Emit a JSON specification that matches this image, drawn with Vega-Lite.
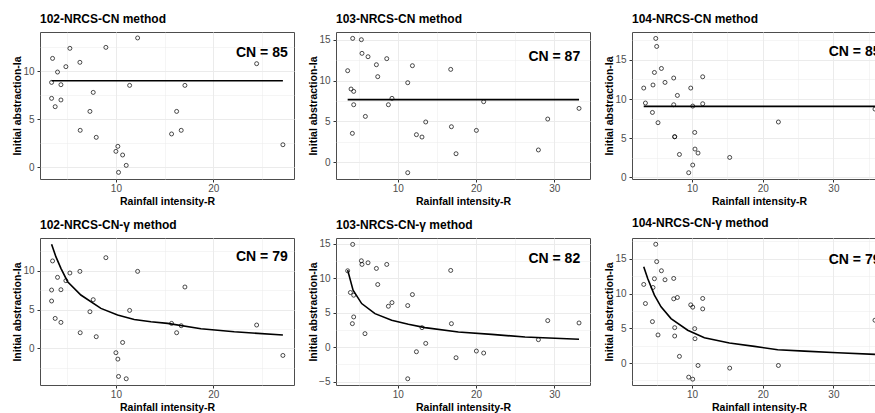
{
  "$schema": "https://vega.github.io/schema/vega-lite/v6.json",
  "background": "white",
  "padding": {"left": 11, "top": 12, "right": 0, "bottom": 0},
  "columns": 3,
  "spacing": {"row": 9, "column": 12},
  "datasets": {
    "points": [
      {"station": "102", "method": "CN", "R": 3.49, "Ia": 11.35}, {"station": "102", "method": "CN", "R": 3.39, "Ia": 8.85}, {"station": "102", "method": "CN", "R": 3.39, "Ia": 7.19}, {"station": "102", "method": "CN", "R": 3.76, "Ia": 6.32}, {"station": "102", "method": "CN", "R": 4.0, "Ia": 9.93}, {"station": "102", "method": "CN", "R": 4.35, "Ia": 8.61}, {"station": "102", "method": "CN", "R": 4.35, "Ia": 7.02}, {"station": "102", "method": "CN", "R": 4.86, "Ia": 10.49}, {"station": "102", "method": "CN", "R": 5.27, "Ia": 12.4}, {"station": "102", "method": "CN", "R": 6.3, "Ia": 10.94}, {"station": "102", "method": "CN", "R": 6.33, "Ia": 3.86}, {"station": "102", "method": "CN", "R": 7.33, "Ia": 5.83}, {"station": "102", "method": "CN", "R": 7.67, "Ia": 7.81}, {"station": "102", "method": "CN", "R": 7.98, "Ia": 3.13}, {"station": "102", "method": "CN", "R": 8.97, "Ia": 12.5}, {"station": "102", "method": "CN", "R": 10.0, "Ia": 1.67}, {"station": "102", "method": "CN", "R": 10.2, "Ia": 2.19}, {"station": "102", "method": "CN", "R": 10.27, "Ia": -0.52}, {"station": "102", "method": "CN", "R": 10.69, "Ia": 1.29}, {"station": "102", "method": "CN", "R": 11.06, "Ia": 0.21}, {"station": "102", "method": "CN", "R": 11.41, "Ia": 8.54}, {"station": "102", "method": "CN", "R": 12.23, "Ia": 13.48}, {"station": "102", "method": "CN", "R": 15.72, "Ia": 3.48}, {"station": "102", "method": "CN", "R": 16.24, "Ia": 5.83}, {"station": "102", "method": "CN", "R": 16.71, "Ia": 3.86}, {"station": "102", "method": "CN", "R": 17.09, "Ia": 8.54}, {"station": "102", "method": "CN", "R": 24.46, "Ia": 10.8}, {"station": "102", "method": "CN", "R": 27.16, "Ia": 2.36},
      {"station": "102", "method": "G", "R": 3.49, "Ia": 11.25}, {"station": "102", "method": "G", "R": 3.39, "Ia": 7.51}, {"station": "102", "method": "G", "R": 3.39, "Ia": 6.1}, {"station": "102", "method": "G", "R": 3.76, "Ia": 3.86}, {"station": "102", "method": "G", "R": 4.0, "Ia": 9.14}, {"station": "102", "method": "G", "R": 4.35, "Ia": 7.55}, {"station": "102", "method": "G", "R": 4.35, "Ia": 3.35}, {"station": "102", "method": "G", "R": 4.86, "Ia": 8.71}, {"station": "102", "method": "G", "R": 5.27, "Ia": 9.7}, {"station": "102", "method": "G", "R": 6.3, "Ia": 9.91}, {"station": "102", "method": "G", "R": 6.33, "Ia": 2.02}, {"station": "102", "method": "G", "R": 7.33, "Ia": 4.72}, {"station": "102", "method": "G", "R": 7.67, "Ia": 6.27}, {"station": "102", "method": "G", "R": 7.98, "Ia": 1.51}, {"station": "102", "method": "G", "R": 8.97, "Ia": 11.67}, {"station": "102", "method": "G", "R": 10.0, "Ia": -0.55}, {"station": "102", "method": "G", "R": 10.2, "Ia": -1.37}, {"station": "102", "method": "G", "R": 10.27, "Ia": -3.6}, {"station": "102", "method": "G", "R": 10.69, "Ia": 0.77}, {"station": "102", "method": "G", "R": 11.06, "Ia": -3.9}, {"station": "102", "method": "G", "R": 11.41, "Ia": 4.89}, {"station": "102", "method": "G", "R": 12.23, "Ia": 9.91}, {"station": "102", "method": "G", "R": 15.72, "Ia": 3.22}, {"station": "102", "method": "G", "R": 16.24, "Ia": 2.02}, {"station": "102", "method": "G", "R": 16.71, "Ia": 2.92}, {"station": "102", "method": "G", "R": 17.09, "Ia": 7.9}, {"station": "102", "method": "G", "R": 24.46, "Ia": 3.01}, {"station": "102", "method": "G", "R": 27.16, "Ia": -0.9},
      {"station": "103", "method": "CN", "R": 3.61, "Ia": 11.21}, {"station": "103", "method": "CN", "R": 4.04, "Ia": 8.97}, {"station": "103", "method": "CN", "R": 4.38, "Ia": 8.68}, {"station": "103", "method": "CN", "R": 4.25, "Ia": 15.16}, {"station": "103", "method": "CN", "R": 4.38, "Ia": 7.05}, {"station": "103", "method": "CN", "R": 4.21, "Ia": 3.55}, {"station": "103", "method": "CN", "R": 5.36, "Ia": 15.0}, {"station": "103", "method": "CN", "R": 5.44, "Ia": 13.33}, {"station": "103", "method": "CN", "R": 6.21, "Ia": 12.92}, {"station": "103", "method": "CN", "R": 5.87, "Ia": 5.62}, {"station": "103", "method": "CN", "R": 7.28, "Ia": 11.94}, {"station": "103", "method": "CN", "R": 7.45, "Ia": 10.48}, {"station": "103", "method": "CN", "R": 8.6, "Ia": 12.68}, {"station": "103", "method": "CN", "R": 8.81, "Ia": 7.05}, {"station": "103", "method": "CN", "R": 9.27, "Ia": 7.83}, {"station": "103", "method": "CN", "R": 11.28, "Ia": 9.74}, {"station": "103", "method": "CN", "R": 11.28, "Ia": -1.26}, {"station": "103", "method": "CN", "R": 11.88, "Ia": 11.82}, {"station": "103", "method": "CN", "R": 12.39, "Ia": 3.39}, {"station": "103", "method": "CN", "R": 13.1, "Ia": 3.1}, {"station": "103", "method": "CN", "R": 13.58, "Ia": 4.94}, {"station": "103", "method": "CN", "R": 16.77, "Ia": 11.37}, {"station": "103", "method": "CN", "R": 16.86, "Ia": 4.36}, {"station": "103", "method": "CN", "R": 17.45, "Ia": 1.06}, {"station": "103", "method": "CN", "R": 20.05, "Ia": 3.91}, {"station": "103", "method": "CN", "R": 20.98, "Ia": 7.42}, {"station": "103", "method": "CN", "R": 27.97, "Ia": 1.52}, {"station": "103", "method": "CN", "R": 29.16, "Ia": 5.3}, {"station": "103", "method": "CN", "R": 33.16, "Ia": 6.6},
      {"station": "103", "method": "G", "R": 3.61, "Ia": 11.05}, {"station": "103", "method": "G", "R": 3.96, "Ia": 7.9}, {"station": "103", "method": "G", "R": 4.38, "Ia": 7.51}, {"station": "103", "method": "G", "R": 4.25, "Ia": 14.87}, {"station": "103", "method": "G", "R": 4.38, "Ia": 4.36}, {"station": "103", "method": "G", "R": 4.21, "Ia": 3.39}, {"station": "103", "method": "G", "R": 5.36, "Ia": 12.5}, {"station": "103", "method": "G", "R": 5.44, "Ia": 11.97}, {"station": "103", "method": "G", "R": 6.21, "Ia": 12.21}, {"station": "103", "method": "G", "R": 5.82, "Ia": 1.94}, {"station": "103", "method": "G", "R": 7.28, "Ia": 11.39}, {"station": "103", "method": "G", "R": 7.45, "Ia": 9.06}, {"station": "103", "method": "G", "R": 8.6, "Ia": 11.97}, {"station": "103", "method": "G", "R": 8.81, "Ia": 5.91}, {"station": "103", "method": "G", "R": 9.27, "Ia": 6.44}, {"station": "103", "method": "G", "R": 11.28, "Ia": 6.01}, {"station": "103", "method": "G", "R": 11.28, "Ia": -4.6}, {"station": "103", "method": "G", "R": 11.88, "Ia": 7.6}, {"station": "103", "method": "G", "R": 12.39, "Ia": -0.68}, {"station": "103", "method": "G", "R": 13.1, "Ia": 2.81}, {"station": "103", "method": "G", "R": 13.58, "Ia": 0.53}, {"station": "103", "method": "G", "R": 16.77, "Ia": 11.1}, {"station": "103", "method": "G", "R": 16.86, "Ia": 3.39}, {"station": "103", "method": "G", "R": 17.45, "Ia": -1.55}, {"station": "103", "method": "G", "R": 20.05, "Ia": -0.58}, {"station": "103", "method": "G", "R": 20.98, "Ia": -0.87}, {"station": "103", "method": "G", "R": 27.97, "Ia": 1.07}, {"station": "103", "method": "G", "R": 29.16, "Ia": 3.83}, {"station": "103", "method": "G", "R": 33.16, "Ia": 3.49},
      {"station": "104", "method": "CN", "R": 3.17, "Ia": 11.4}, {"station": "104", "method": "CN", "R": 3.41, "Ia": 9.49}, {"station": "104", "method": "CN", "R": 4.4, "Ia": 8.29}, {"station": "104", "method": "CN", "R": 4.48, "Ia": 11.79}, {"station": "104", "method": "CN", "R": 4.68, "Ia": 13.39}, {"station": "104", "method": "CN", "R": 4.87, "Ia": 17.73}, {"station": "104", "method": "CN", "R": 5.0, "Ia": 16.71}, {"station": "104", "method": "CN", "R": 5.19, "Ia": 6.98}, {"station": "104", "method": "CN", "R": 5.67, "Ia": 13.9}, {"station": "104", "method": "CN", "R": 6.18, "Ia": 12.12}, {"station": "104", "method": "CN", "R": 7.41, "Ia": 12.68}, {"station": "104", "method": "CN", "R": 7.41, "Ia": 9.27}, {"station": "104", "method": "CN", "R": 7.55, "Ia": 5.19}, {"station": "104", "method": "CN", "R": 7.55, "Ia": 5.19}, {"station": "104", "method": "CN", "R": 7.93, "Ia": 10.46}, {"station": "104", "method": "CN", "R": 8.22, "Ia": 2.93}, {"station": "104", "method": "CN", "R": 9.53, "Ia": 0.6}, {"station": "104", "method": "CN", "R": 9.82, "Ia": 11.4}, {"station": "104", "method": "CN", "R": 10.1, "Ia": 1.58}, {"station": "104", "method": "CN", "R": 10.1, "Ia": 9.1}, {"station": "104", "method": "CN", "R": 10.38, "Ia": 5.74}, {"station": "104", "method": "CN", "R": 10.42, "Ia": 3.62}, {"station": "104", "method": "CN", "R": 10.85, "Ia": 3.11}, {"station": "104", "method": "CN", "R": 11.51, "Ia": 12.84}, {"station": "104", "method": "CN", "R": 11.51, "Ia": 9.4}, {"station": "104", "method": "CN", "R": 15.33, "Ia": 2.55}, {"station": "104", "method": "CN", "R": 22.22, "Ia": 7.07}, {"station": "104", "method": "CN", "R": 35.88, "Ia": 8.72},
      {"station": "104", "method": "G", "R": 3.17, "Ia": 11.32}, {"station": "104", "method": "G", "R": 3.41, "Ia": 8.57}, {"station": "104", "method": "G", "R": 4.4, "Ia": 5.97}, {"station": "104", "method": "G", "R": 4.48, "Ia": 10.88}, {"station": "104", "method": "G", "R": 4.68, "Ia": 12.14}, {"station": "104", "method": "G", "R": 4.87, "Ia": 17.1}, {"station": "104", "method": "G", "R": 5.0, "Ia": 14.6}, {"station": "104", "method": "G", "R": 5.19, "Ia": 4.05}, {"station": "104", "method": "G", "R": 5.67, "Ia": 13.29}, {"station": "104", "method": "G", "R": 6.18, "Ia": 11.99}, {"station": "104", "method": "G", "R": 7.41, "Ia": 12.18}, {"station": "104", "method": "G", "R": 7.41, "Ia": 9.25}, {"station": "104", "method": "G", "R": 7.55, "Ia": 5.1}, {"station": "104", "method": "G", "R": 7.55, "Ia": 3.9}, {"station": "104", "method": "G", "R": 7.93, "Ia": 9.44}, {"station": "104", "method": "G", "R": 8.22, "Ia": 0.97}, {"station": "104", "method": "G", "R": 9.53, "Ia": -2.02}, {"station": "104", "method": "G", "R": 9.82, "Ia": 8.38}, {"station": "104", "method": "G", "R": 10.1, "Ia": -2.31}, {"station": "104", "method": "G", "R": 10.1, "Ia": 8.05}, {"station": "104", "method": "G", "R": 10.38, "Ia": 4.96}, {"station": "104", "method": "G", "R": 10.42, "Ia": 3.51}, {"station": "104", "method": "G", "R": 10.85, "Ia": -0.34}, {"station": "104", "method": "G", "R": 11.51, "Ia": 9.3}, {"station": "104", "method": "G", "R": 11.51, "Ia": 7.8}, {"station": "104", "method": "G", "R": 15.33, "Ia": -0.72}, {"station": "104", "method": "G", "R": 22.22, "Ia": -0.34}, {"station": "104", "method": "G", "R": 35.88, "Ia": 6.17}
    ],
    "fits": [
      {"station": "102", "method": "CN", "R": 3.39, "Ia": 9.03}, {"station": "102", "method": "CN", "R": 27.16, "Ia": 9.03},
      {"station": "103", "method": "CN", "R": 3.61, "Ia": 7.67}, {"station": "103", "method": "CN", "R": 33.16, "Ia": 7.67},
      {"station": "104", "method": "CN", "R": 3.17, "Ia": 9.06}, {"station": "104", "method": "CN", "R": 35.88, "Ia": 9.06},
      {"station": "102", "method": "G", "R": 3.39, "Ia": 13.4}, {"station": "102", "method": "G", "R": 3.83, "Ia": 11.8}, {"station": "102", "method": "G", "R": 4.35, "Ia": 10.3}, {"station": "102", "method": "G", "R": 5.04, "Ia": 8.58}, {"station": "102", "method": "G", "R": 6.4, "Ia": 6.87}, {"station": "102", "method": "G", "R": 8.46, "Ia": 5.15}, {"station": "102", "method": "G", "R": 10.17, "Ia": 4.3}, {"station": "102", "method": "G", "R": 11.88, "Ia": 3.73}, {"station": "102", "method": "G", "R": 13.6, "Ia": 3.44}, {"station": "102", "method": "G", "R": 15.31, "Ia": 3.22}, {"station": "102", "method": "G", "R": 18.74, "Ia": 2.54}, {"station": "102", "method": "G", "R": 22.16, "Ia": 2.15}, {"station": "102", "method": "G", "R": 27.16, "Ia": 1.72},
      {"station": "103", "method": "G", "R": 3.61, "Ia": 11.14}, {"station": "103", "method": "G", "R": 4.3, "Ia": 8.24}, {"station": "103", "method": "G", "R": 5.4, "Ia": 6.3}, {"station": "103", "method": "G", "R": 7.1, "Ia": 4.84}, {"station": "103", "method": "G", "R": 9.23, "Ia": 3.88}, {"station": "103", "method": "G", "R": 11.36, "Ia": 3.3}, {"station": "103", "method": "G", "R": 13.49, "Ia": 2.81}, {"station": "103", "method": "G", "R": 17.75, "Ia": 2.18}, {"station": "103", "method": "G", "R": 22.0, "Ia": 1.84}, {"station": "103", "method": "G", "R": 26.26, "Ia": 1.45}, {"station": "103", "method": "G", "R": 33.16, "Ia": 1.12},
      {"station": "104", "method": "G", "R": 3.17, "Ia": 13.87}, {"station": "104", "method": "G", "R": 3.73, "Ia": 12.18}, {"station": "104", "method": "G", "R": 4.68, "Ia": 9.78}, {"station": "104", "method": "G", "R": 5.62, "Ia": 8.09}, {"station": "104", "method": "G", "R": 7.03, "Ia": 6.4}, {"station": "104", "method": "G", "R": 9.39, "Ia": 4.73}, {"station": "104", "method": "G", "R": 11.75, "Ia": 3.66}, {"station": "104", "method": "G", "R": 15.29, "Ia": 2.89}, {"station": "104", "method": "G", "R": 18.83, "Ia": 2.41}, {"station": "104", "method": "G", "R": 22.12, "Ia": 1.92}, {"station": "104", "method": "G", "R": 25.9, "Ia": 1.73}, {"station": "104", "method": "G", "R": 30.6, "Ia": 1.49}, {"station": "104", "method": "G", "R": 35.88, "Ia": 1.26}
    ],
    "labels": [
      {"station": "102", "method": "CN", "R": 25, "Ia": 11.9, "label": "CN = 85"},
      {"station": "103", "method": "CN", "R": 30, "Ia": 12.85, "label": "CN = 87"},
      {"station": "104", "method": "CN", "R": 33, "Ia": 15.95, "label": "CN = 85"},
      {"station": "102", "method": "G", "R": 25, "Ia": 11.7, "label": "CN = 79"},
      {"station": "103", "method": "G", "R": 30, "Ia": 12.8, "label": "CN = 82"},
      {"station": "104", "method": "G", "R": 33, "Ia": 14.8, "label": "CN = 79"}
    ]
  },
  "concat": [
    {
      "title": "102-NRCS-CN method", "width": 254, "height": 147,
      "encoding": {
        "x": {"field": "R", "type": "quantitative", "scale": {"domain": [2.2, 28.3], "nice": false, "zero": false}, "axis": {"title": "Rainfall intensity-R", "values": [5, 10, 15, 20, 25], "labelExpr": "datum.value % 10 === 0 ? datum.label : ''", "gridWidth": {"condition": {"test": "datum.value % 10 === 0", "value": 1}, "value": 0.5}, "tickOpacity": {"condition": {"test": "datum.value % 10 === 0", "value": 1}, "value": 0}}},
        "y": {"field": "Ia", "type": "quantitative", "scale": {"domain": [-1.21, 14.1], "nice": false, "zero": false}, "axis": {"title": "Initial abstraction-Ia", "values": [0, 2.5, 5, 7.5, 10, 12.5], "labelExpr": "datum.value % 5 === 0 ? datum.label : ''", "gridWidth": {"condition": {"test": "datum.value % 5 === 0", "value": 1}, "value": 0.5}, "tickOpacity": {"condition": {"test": "datum.value % 5 === 0", "value": 1}, "value": 0}}}
      },
      "layer": [
        {"data": {"name": "points"}, "transform": [{"filter": "datum.station === '102' && datum.method === 'CN'"}], "mark": {"type": "point", "shape": "circle", "filled": false, "stroke": "black", "strokeWidth": 0.7, "size": 16, "opacity": 1}},
        {"data": {"name": "fits"}, "transform": [{"filter": "datum.station === '102' && datum.method === 'CN'"}], "mark": {"type": "line", "color": "black", "strokeWidth": 1.6}, "encoding": {}},
        {"data": {"name": "labels"}, "transform": [{"filter": "datum.station === '102' && datum.method === 'CN'"}], "mark": {"type": "text", "font": "Liberation Sans", "fontSize": 14, "fontWeight": "bold", "color": "black", "align": "center", "baseline": "middle"}, "encoding": {"text": {"field": "label"}}}
      ]
    },
    {
      "title": "103-NRCS-CN method", "width": 254, "height": 147,
      "encoding": {
        "x": {"field": "R", "type": "quantitative", "scale": {"domain": [2.12, 34.56], "nice": false, "zero": false}, "axis": {"title": "Rainfall intensity-R", "values": [5, 10, 15, 20, 25, 30], "labelExpr": "datum.value % 10 === 0 ? datum.label : ''", "gridWidth": {"condition": {"test": "datum.value % 10 === 0", "value": 1}, "value": 0.5}, "tickOpacity": {"condition": {"test": "datum.value % 10 === 0", "value": 1}, "value": 0}}},
        "y": {"field": "Ia", "type": "quantitative", "scale": {"domain": [-2.03, 15.94], "nice": false, "zero": false}, "axis": {"title": "Initial abstraction-Ia", "values": [0, 2.5, 5, 7.5, 10, 12.5, 15], "labelExpr": "datum.value % 5 === 0 ? datum.label : ''", "gridWidth": {"condition": {"test": "datum.value % 5 === 0", "value": 1}, "value": 0.5}, "tickOpacity": {"condition": {"test": "datum.value % 5 === 0", "value": 1}, "value": 0}}}
      },
      "layer": [
        {"data": {"name": "points"}, "transform": [{"filter": "datum.station === '103' && datum.method === 'CN'"}], "mark": {"type": "point", "shape": "circle", "filled": false, "stroke": "black", "strokeWidth": 0.7, "size": 16, "opacity": 1}},
        {"data": {"name": "fits"}, "transform": [{"filter": "datum.station === '103' && datum.method === 'CN'"}], "mark": {"type": "line", "color": "black", "strokeWidth": 1.6}, "encoding": {}},
        {"data": {"name": "labels"}, "transform": [{"filter": "datum.station === '103' && datum.method === 'CN'"}], "mark": {"type": "text", "font": "Liberation Sans", "fontSize": 14, "fontWeight": "bold", "color": "black", "align": "center", "baseline": "middle"}, "encoding": {"text": {"field": "label"}}}
      ]
    },
    {
      "title": "104-NRCS-CN method", "width": 254, "height": 147,
      "encoding": {
        "x": {"field": "R", "type": "quantitative", "scale": {"domain": [1.51, 37.44], "nice": false, "zero": false}, "axis": {"title": "Rainfall intensity-R", "values": [5, 10, 15, 20, 25, 30, 35], "labelExpr": "datum.value % 10 === 0 ? datum.label : ''", "gridWidth": {"condition": {"test": "datum.value % 10 === 0", "value": 1}, "value": 0.5}, "tickOpacity": {"condition": {"test": "datum.value % 10 === 0", "value": 1}, "value": 0}}},
        "y": {"field": "Ia", "type": "quantitative", "scale": {"domain": [-0.2, 18.55], "nice": false, "zero": false}, "axis": {"title": "Initial abstraction-Ia", "values": [0, 2.5, 5, 7.5, 10, 12.5, 15, 17.5], "labelExpr": "datum.value % 5 === 0 ? datum.label : ''", "gridWidth": {"condition": {"test": "datum.value % 5 === 0", "value": 1}, "value": 0.5}, "tickOpacity": {"condition": {"test": "datum.value % 5 === 0", "value": 1}, "value": 0}}}
      },
      "layer": [
        {"data": {"name": "points"}, "transform": [{"filter": "datum.station === '104' && datum.method === 'CN'"}], "mark": {"type": "point", "shape": "circle", "filled": false, "stroke": "black", "strokeWidth": 0.7, "size": 16, "opacity": 1}},
        {"data": {"name": "fits"}, "transform": [{"filter": "datum.station === '104' && datum.method === 'CN'"}], "mark": {"type": "line", "color": "black", "strokeWidth": 1.6}, "encoding": {}},
        {"data": {"name": "labels"}, "transform": [{"filter": "datum.station === '104' && datum.method === 'CN'"}], "mark": {"type": "text", "font": "Liberation Sans", "fontSize": 14, "fontWeight": "bold", "color": "black", "align": "center", "baseline": "middle"}, "encoding": {"text": {"field": "label"}}}
      ]
    },
    {
      "title": "102-NRCS-CN-γ method", "width": 254, "height": 147,
      "encoding": {
        "x": {"field": "R", "type": "quantitative", "scale": {"domain": [2.2, 28.3], "nice": false, "zero": false}, "axis": {"title": "Rainfall intensity-R", "values": [5, 10, 15, 20, 25], "labelExpr": "datum.value % 10 === 0 ? datum.label : ''", "gridWidth": {"condition": {"test": "datum.value % 10 === 0", "value": 1}, "value": 0.5}, "tickOpacity": {"condition": {"test": "datum.value % 10 === 0", "value": 1}, "value": 0}}},
        "y": {"field": "Ia", "type": "quantitative", "scale": {"domain": [-4.7, 14.2], "nice": false, "zero": false}, "axis": {"title": "Initial abstraction-Ia", "values": [-2.5, 0, 2.5, 5, 7.5, 10, 12.5], "labelExpr": "datum.value % 5 === 0 ? datum.label : ''", "gridWidth": {"condition": {"test": "datum.value % 5 === 0", "value": 1}, "value": 0.5}, "tickOpacity": {"condition": {"test": "datum.value % 5 === 0", "value": 1}, "value": 0}}}
      },
      "layer": [
        {"data": {"name": "points"}, "transform": [{"filter": "datum.station === '102' && datum.method === 'G'"}], "mark": {"type": "point", "shape": "circle", "filled": false, "stroke": "black", "strokeWidth": 0.7, "size": 16, "opacity": 1}},
        {"data": {"name": "fits"}, "transform": [{"filter": "datum.station === '102' && datum.method === 'G'"}], "mark": {"type": "line", "color": "black", "strokeWidth": 1.6}, "encoding": {}},
        {"data": {"name": "labels"}, "transform": [{"filter": "datum.station === '102' && datum.method === 'G'"}], "mark": {"type": "text", "font": "Liberation Sans", "fontSize": 14, "fontWeight": "bold", "color": "black", "align": "center", "baseline": "middle"}, "encoding": {"text": {"field": "label"}}}
      ]
    },
    {
      "title": "103-NRCS-CN-γ method", "width": 254, "height": 147,
      "encoding": {
        "x": {"field": "R", "type": "quantitative", "scale": {"domain": [2.12, 34.56], "nice": false, "zero": false}, "axis": {"title": "Rainfall intensity-R", "values": [5, 10, 15, 20, 25, 30], "labelExpr": "datum.value % 10 === 0 ? datum.label : ''", "gridWidth": {"condition": {"test": "datum.value % 10 === 0", "value": 1}, "value": 0.5}, "tickOpacity": {"condition": {"test": "datum.value % 10 === 0", "value": 1}, "value": 0}}},
        "y": {"field": "Ia", "type": "quantitative", "scale": {"domain": [-5.5, 15.8], "nice": false, "zero": false}, "axis": {"title": "Initial abstraction-Ia", "values": [-5, -2.5, 0, 2.5, 5, 7.5, 10, 12.5, 15], "labelExpr": "datum.value % 5 === 0 ? datum.label : ''", "gridWidth": {"condition": {"test": "datum.value % 5 === 0", "value": 1}, "value": 0.5}, "tickOpacity": {"condition": {"test": "datum.value % 5 === 0", "value": 1}, "value": 0}}}
      },
      "layer": [
        {"data": {"name": "points"}, "transform": [{"filter": "datum.station === '103' && datum.method === 'G'"}], "mark": {"type": "point", "shape": "circle", "filled": false, "stroke": "black", "strokeWidth": 0.7, "size": 16, "opacity": 1}},
        {"data": {"name": "fits"}, "transform": [{"filter": "datum.station === '103' && datum.method === 'G'"}], "mark": {"type": "line", "color": "black", "strokeWidth": 1.6}, "encoding": {}},
        {"data": {"name": "labels"}, "transform": [{"filter": "datum.station === '103' && datum.method === 'G'"}], "mark": {"type": "text", "font": "Liberation Sans", "fontSize": 14, "fontWeight": "bold", "color": "black", "align": "center", "baseline": "middle"}, "encoding": {"text": {"field": "label"}}}
      ]
    },
    {
      "title": "104-NRCS-CN-γ method", "width": 254, "height": 147,
      "encoding": {
        "x": {"field": "R", "type": "quantitative", "scale": {"domain": [1.51, 37.44], "nice": false, "zero": false}, "axis": {"title": "Rainfall intensity-R", "values": [5, 10, 15, 20, 25, 30, 35], "labelExpr": "datum.value % 10 === 0 ? datum.label : ''", "gridWidth": {"condition": {"test": "datum.value % 10 === 0", "value": 1}, "value": 0.5}, "tickOpacity": {"condition": {"test": "datum.value % 10 === 0", "value": 1}, "value": 0}}},
        "y": {"field": "Ia", "type": "quantitative", "scale": {"domain": [-3.15, 18.0], "nice": false, "zero": false}, "axis": {"title": "Initial abstraction-Ia", "values": [-2.5, 0, 2.5, 5, 7.5, 10, 12.5, 15, 17.5], "labelExpr": "datum.value % 5 === 0 ? datum.label : ''", "gridWidth": {"condition": {"test": "datum.value % 5 === 0", "value": 1}, "value": 0.5}, "tickOpacity": {"condition": {"test": "datum.value % 5 === 0", "value": 1}, "value": 0}}}
      },
      "layer": [
        {"data": {"name": "points"}, "transform": [{"filter": "datum.station === '104' && datum.method === 'G'"}], "mark": {"type": "point", "shape": "circle", "filled": false, "stroke": "black", "strokeWidth": 0.7, "size": 16, "opacity": 1}},
        {"data": {"name": "fits"}, "transform": [{"filter": "datum.station === '104' && datum.method === 'G'"}], "mark": {"type": "line", "color": "black", "strokeWidth": 1.6}, "encoding": {}},
        {"data": {"name": "labels"}, "transform": [{"filter": "datum.station === '104' && datum.method === 'G'"}], "mark": {"type": "text", "font": "Liberation Sans", "fontSize": 14, "fontWeight": "bold", "color": "black", "align": "center", "baseline": "middle"}, "encoding": {"text": {"field": "label"}}}
      ]
    }
  ],
  "config": {
    "view": {"stroke": "#4d4d4d", "strokeWidth": 1},
    "title": {"font": "Liberation Sans", "fontSize": 12, "fontWeight": "bold", "color": "black", "anchor": "start", "frame": "group", "offset": 6},
    "axis": {"domain": false, "grid": true, "gridColor": "#EBEBEB", "tickColor": "#333333", "tickSize": 3, "labelColor": "#4D4D4D", "labelFont": "Liberation Sans", "labelFontSize": 10, "labelOverlap": false, "labelFlush": false, "titleFont": "Liberation Sans", "titleFontSize": 10.5, "titleFontWeight": "bold", "titleColor": "black"},
    "axisX": {"labelPadding": 1, "titlePadding": 3},
    "axisY": {"labelPadding": 3, "titlePadding": 1, "minExtent": 17, "maxExtent": 17}
  }
}
